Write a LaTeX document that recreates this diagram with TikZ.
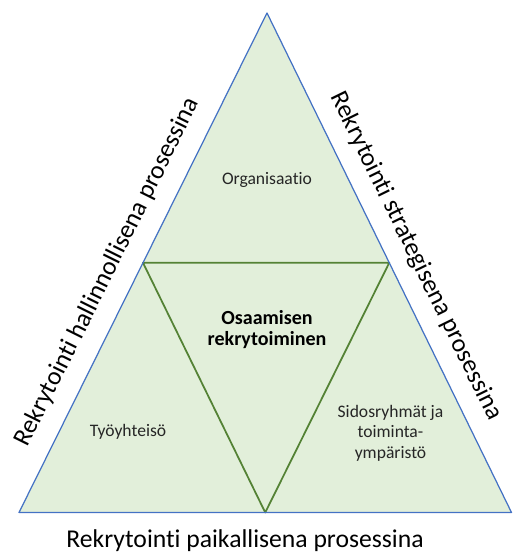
\documentclass[tikz,border=0pt]{standalone}
\usepackage{fontspec}
\setmainfont{Carlito}[Ligatures=NoCommon]
\usepackage{tikz}
\usepackage{tkz-euclide}
\definecolor{kehys}{HTML}{4472C4}
\definecolor{tausta}{HTML}{E2EFDA}
\definecolor{sisa}{HTML}{548235}
\definecolor{teksti}{HTML}{262626}

\begin{document}
\begin{tikzpicture}[
    reunateksti/.style={font=\fontsize{14.6}{17}\selectfont, inner sep=0pt},
    alueteksti/.style={font=\fontsize{10}{11.7}\selectfont, text=teksti, align=center, inner sep=0pt},
    keskiteksti/.style={font=\bfseries\fontsize{11.4}{12.2}\selectfont, align=center, inner sep=0pt}]

      \useasboundingbox (0,0) rectangle (10.26,11.06);

      \tkzDefPoint(0.38,0.81){A}
      \tkzDefPoint(10.23,0.81){B}
      \tkzDefPoint(5.34,10.80){C}
      \tkzDefMidPoint(A,B) \tkzGetPoint{c}
      \tkzDefMidPoint(B,C) \tkzGetPoint{a}
      \tkzDefMidPoint(C,A) \tkzGetPoint{b}
      \tkzFillPolygon[color=tausta](A,B,C)
      \tkzDrawPolygon[color=sisa, line width=1pt](a,b,c)
      \tkzDrawPolygon[color=kehys, line width=0.7pt](A,B,C)

      \node[alueteksti, anchor=base] (org) at (5.34,7.36) {Organisaatio};
      \node[keskiteksti] (osaaminen) at (5.34,4.47) {Osaamisen\\rekrytoiminen};
      \node[alueteksti, anchor=base] (tyo) at (2.56,2.32) {Työyhteisö};
      \node[alueteksti] (sidos) at (7.81,2.40) {Sidosryhmät ja\\toiminta-\\ympäristö};

      \node[reunateksti, anchor=base, rotate=63.6] (hallinto) at (2.27,5.56) {Rekrytointi hallinnollisena prosessina};
      \node[reunateksti, anchor=base, rotate=-63.9] (strategia) at (8.20,5.88) {Rekrytointi strategisena prosessina};
      \node[reunateksti, anchor=base] (paikallinen) at (4.90,0.12) {Rekrytointi paikallisena prosessina};

\end{tikzpicture}
\end{document}
